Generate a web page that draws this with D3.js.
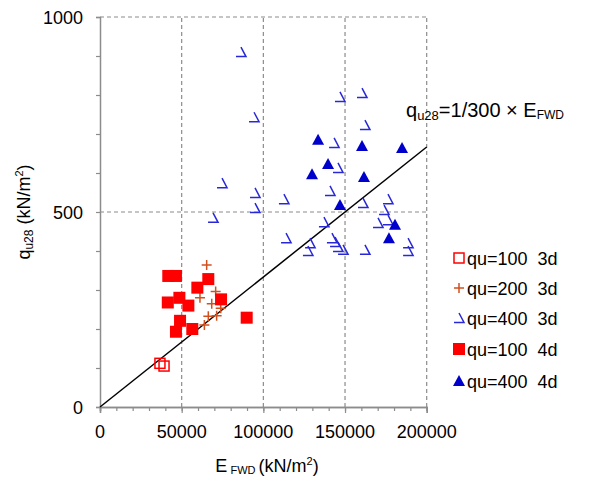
<!DOCTYPE html>
<html>
<head>
<meta charset="utf-8">
<script src="https://cdn.jsdelivr.net/npm/d3@7"></script>
<style>
  body { margin: 0; background: #fff; }
  svg { font-family: "Liberation Sans", Arial, sans-serif; }
</style>
</head>
<body>
<svg width="596" height="477"></svg>
<script>
// series: [E_FWD, q_u28]
const qu100_3d = [[36700, 112], [39200, 105]];
const qu200_3d = [
  [65300, 364], [70800, 296], [61200, 280], [68400, 265],
  [73900, 253], [66300, 233], [71400, 234], [63900, 210]
];
const qu400_3d = [
  [86300, 910], [94300, 743], [74700, 574], [94900, 549], [94900, 510],
  [69200, 485], [112600, 533], [146900, 795], [160400, 805], [162200, 723],
  [143300, 677], [145700, 613], [140800, 554], [161000, 523], [137100, 474],
  [176300, 533], [173900, 505], [170200, 472], [176300, 479], [113900, 433],
  [128600, 420], [127300, 400], [142000, 433], [143900, 423], [145700, 410],
  [148800, 403], [162200, 403], [188600, 420], [188600, 400]
];
const qu100_4d = [
  [41800, 336], [46500, 336], [66300, 328], [59600, 306], [74100, 276],
  [41500, 268], [48600, 280], [54100, 260], [89800, 229], [49000, 221],
  [46500, 193], [56500, 200]
];
const qu400_4d = [
  [133500, 685], [160400, 669], [184900, 664], [139600, 623], [129800, 597],
  [161600, 590], [146900, 518], [180600, 467], [176900, 433]
];
const legendLabels = ["qu=100\u00a0\u00a03d", "qu=200\u00a0\u00a03d", "qu=400\u00a0\u00a03d", "qu=100\u00a0\u00a04d", "qu=400\u00a0\u00a04d"];
const xTicks = [0, 50000, 100000, 150000, 200000];
const yTicks = [0, 500, 1000];
const lineSlope = 1 / 300;

const svg = d3.select("svg");
const x = d3.scaleLinear().domain([0, 200000]).range([100, 426.7]);
const y = d3.scaleLinear().domain([0, 1000]).range([407, 17]);

const gray = "#8c8c8c";

// grid (dashed)
svg.append("g").selectAll("line")
  .data(xTicks.slice(1))
  .join("line")
  .attr("x1", d => x(d)).attr("x2", d => x(d))
  .attr("y1", y(0)).attr("y2", y(1000))
  .attr("stroke", gray).attr("stroke-width", 1.2).attr("stroke-dasharray", "4,3");
svg.append("g").selectAll("line")
  .data(yTicks.slice(1))
  .join("line")
  .attr("x1", x(0)).attr("x2", x(200000))
  .attr("y1", d => y(d)).attr("y2", d => y(d))
  .attr("stroke", gray).attr("stroke-width", 1.2).attr("stroke-dasharray", "4,3");

// axes
const xAxis = svg.append("g").attr("transform", `translate(0,${y(0)})`)
  .call(d3.axisBottom(x).tickValues(d3.range(0, 200001, 10000)).tickSize(4).tickFormat(""));
xAxis.append("g").call(d3.axisBottom(x).tickValues(xTicks).tickSize(6).tickFormat(""));
const yAxis = svg.append("g").attr("transform", `translate(${x(0)},0)`)
  .call(d3.axisLeft(y).tickValues(d3.range(0, 1001, 100)).tickSize(4).tickFormat(""));
[xAxis, yAxis].forEach(g => {
  g.selectAll(".domain").attr("stroke", gray).attr("stroke-width", 1.5);
  g.selectAll("line").attr("stroke", gray).attr("stroke-width", 1.2);
});

svg.append("g").selectAll("text")
  .data(xTicks)
  .join("text")
  .attr("x", d => x(d)).attr("y", 438)
  .attr("text-anchor", "middle").attr("font-size", 18)
  .text(d => d);
svg.append("g").selectAll("text")
  .data(yTicks)
  .join("text")
  .attr("x", 83).attr("y", d => y(d) + 6.5)
  .attr("text-anchor", "end").attr("font-size", 18)
  .text(d => d);

// axis titles
const xt = svg.append("text").attr("x", 267).attr("y", 472).attr("text-anchor", "middle").attr("font-size", 18);
xt.append("tspan").text("E");
xt.append("tspan").attr("font-size", 11).attr("dy", 2).text("\u00a0FWD\u00a0");
xt.append("tspan").attr("dy", -2).text("(kN/m");
xt.append("tspan").attr("font-size", 11).attr("dy", -7).text("2");
xt.append("tspan").attr("dy", 7).text(")");

const yt = svg.append("text").attr("transform", "translate(30,212) rotate(-90)")
  .attr("text-anchor", "middle").attr("font-size", 18);
yt.append("tspan").text("q");
yt.append("tspan").attr("font-size", 12).attr("dy", 3).text("u28");
yt.append("tspan").attr("dy", -3).text(" (kN/m");
yt.append("tspan").attr("font-size", 11).attr("dy", -7).text("2");
yt.append("tspan").attr("dy", 7).text(")");

// regression line
svg.append("line")
  .attr("x1", x(0)).attr("y1", y(0))
  .attr("x2", x(200000)).attr("y2", y(200000 * lineSlope))
  .attr("stroke", "#000").attr("stroke-width", 1.5);

const at = svg.append("text").attr("x", 406).attr("y", 117).attr("font-size", 20);
at.append("tspan").text("q");
at.append("tspan").attr("font-size", 13).attr("dy", 3).text("u28");
at.append("tspan").attr("dy", -3).text("=1/300 \u00d7 E");
at.append("tspan").attr("font-size", 12).attr("dy", 2).text("FWD");

// marker drawers
const red = "#ff0000", orange = "#d2501e", blue = "#0000cc", blue2 = "#2828d8";
const drawers = [
  g => g.append("rect").attr("x", -5).attr("y", -5).attr("width", 10).attr("height", 10)
        .attr("fill", "none").attr("stroke", red).attr("stroke-width", 1.5),
  g => g.append("path").attr("d", "M-5,0H5M0,-5V5").attr("stroke", orange).attr("stroke-width", 1.5),
  g => g.append("path").attr("d", "M0,-5L5,4.5H-5").attr("fill", "none").attr("stroke", blue2).attr("stroke-width", 1.5),
  g => g.append("rect").attr("x", -6).attr("y", -6).attr("width", 12).attr("height", 12).attr("fill", red),
  g => g.append("path").attr("d", "M0,-6L6,5H-6Z").attr("fill", blue)
];
const series = [qu100_3d, qu200_3d, qu400_3d, qu100_4d, qu400_4d];

series.forEach((data, i) => {
  svg.append("g").selectAll("g")
    .data(data)
    .join("g")
    .attr("transform", d => `translate(${x(d[0])},${y(d[1])})`)
    .each(function () { drawers[i](d3.select(this)); });
});

// legend
const legendY = [258, 288, 318, 349, 381];
const lg = svg.append("g").selectAll("g")
  .data(legendLabels)
  .join("g")
  .attr("transform", (d, i) => `translate(459,${legendY[i]})`);
lg.each(function (d, i) { drawers[i](d3.select(this)); });
lg.append("text").attr("x", 8).attr("y", 6.5).attr("font-size", 18).text(d => d);
</script>
</body>
</html>
